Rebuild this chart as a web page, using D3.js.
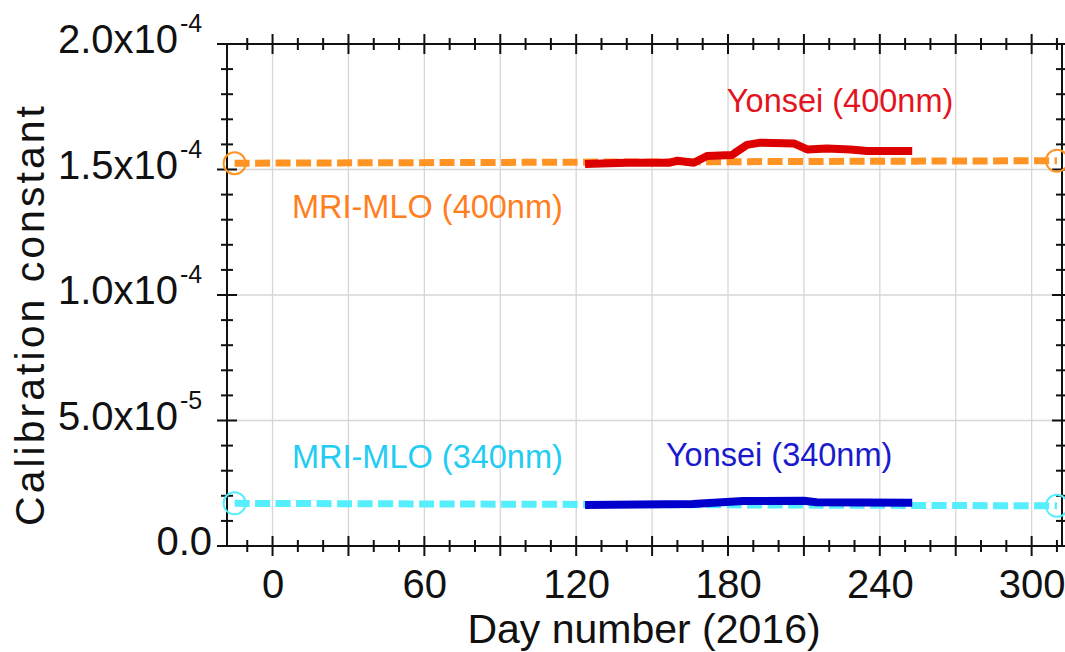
<!DOCTYPE html>
<html>
<head>
<meta charset="utf-8">
<script src="https://cdn.jsdelivr.net/npm/d3@7"></script>
<style>
  html, body { margin: 0; padding: 0; background: #fff; }
  svg { display: block; font-family: "Liberation Sans", Arial, sans-serif; }
</style>
</head>
<body>
<svg id="chart" width="1065" height="652"></svg>
<script>
// ---- data ----
const xDomain = [-18, 312];
const yDomain = [0, 2e-4];

const xTickLabels = [0, 60, 120, 180, 240, 300];
const xGridValues = [0, 30, 60, 90, 120, 150, 180, 210, 240, 270, 300];
const yTickValues = [0, 5e-5, 1e-4, 1.5e-4, 2e-4];
const yTickMantissa = ["0.0", "5.0x10", "1.0x10", "1.5x10", "2.0x10"];
const yTickExponent = ["", "-5", "-4", "-4", "-4"];

// MRI-MLO reference (dashed, with circle end markers)
const mlo400Days = [-15, 310];
const mlo400Vals = [1.525e-4, 1.535e-4];
const mlo340Days = [-15, 310];
const mlo340Vals = [1.70e-5, 1.60e-5];

// Yonsei (solid)
const yon400Days = [123.5, 140, 157, 160, 166.5, 171.7, 181.6, 183.5, 187.5, 192.8, 206, 211.3, 219, 228.4, 235, 252.8];
const yon400Vals = [1.522e-4, 1.527e-4, 1.527e-4, 1.535e-4, 1.527e-4, 1.554e-4, 1.558e-4, 1.571e-4, 1.598e-4, 1.607e-4, 1.604e-4, 1.580e-4, 1.584e-4, 1.580e-4, 1.574e-4, 1.574e-4];
const yon340Days = [123.5, 166, 186, 210, 215, 252.8];
const yon340Vals = [1.633e-5, 1.673e-5, 1.79e-5, 1.80e-5, 1.74e-5, 1.725e-5];

const seriesLabels = [
  { text: "Yonsei (400nm)", day: 224.3, val: 1.73e-4, color: "#e3141e" },
  { text: "MRI-MLO (400nm)", day: 61.2, val: 1.305e-4, color: "#ff7f1f" },
  { text: "MRI-MLO (340nm)", day: 61.2, val: 3.10e-5, color: "#22ccf2" },
  { text: "Yonsei (340nm)", day: 200.2, val: 3.17e-5, color: "#1a1acc" }
];

// ---- layout ----
const svg = d3.select("#chart");
const L = 227, R = 1062, T = 44, B = 546;
const x = d3.scaleLinear().domain(xDomain).range([L, R]);
const y = d3.scaleLinear().domain(yDomain).range([B, T]);

// grid
const grid = svg.append("g").attr("stroke", "#d6d6d6").attr("stroke-width", 1.3);
grid.selectAll("line.v").data(xGridValues).join("line")
  .attr("x1", d => x(d)).attr("x2", d => x(d)).attr("y1", T).attr("y2", B);
grid.selectAll("line.h").data(yTickValues.slice(1, -1)).join("line")
  .attr("x1", L).attr("x2", R).attr("y1", d => y(d)).attr("y2", d => y(d));

// axes frame
const axisColor = "#111";
svg.append("rect").attr("x", L).attr("y", T).attr("width", R - L).attr("height", B - T)
  .attr("fill", "none").attr("stroke", axisColor).attr("stroke-width", 2);

// crossing ticks
const xTicksAll = d3.range(-10, 312, 10);
const yTicksAll = d3.range(0, 21).map(i => i * 1e-5);
const isMajorX = d => d % 30 === 0;
const isMajorY = (d, i) => i % 5 === 0;
const tk = svg.append("g").attr("stroke", axisColor).attr("stroke-width", 2);
[B, T].forEach(yy => {
  tk.append("g").selectAll("line").data(xTicksAll).join("line")
    .attr("x1", d => x(d)).attr("x2", d => x(d))
    .attr("y1", d => yy - (isMajorX(d) ? 10 : 6))
    .attr("y2", d => yy + (isMajorX(d) ? 10 : 6));
});
[L, R].forEach(xx => {
  tk.append("g").selectAll("line").data(yTicksAll).join("line")
    .attr("y1", d => y(d)).attr("y2", d => y(d))
    .attr("x1", (d, i) => xx - (isMajorY(d, i) ? 10 : 6))
    .attr("x2", (d, i) => xx + (isMajorY(d, i) ? 10 : 6));
});

// x axis labels via d3 axis
const xAxis = d3.axisBottom(x).tickValues(xTickLabels).tickSize(0).tickPadding(0).tickFormat(d3.format("d"));
const gx = svg.append("g").attr("transform", `translate(0,${B})`).call(xAxis);
gx.select(".domain").remove();
gx.selectAll("text").attr("font-size", 40).attr("fill", "#111")
  .attr("font-family", "'Liberation Sans', Arial, sans-serif")
  .attr("y", 52).attr("dy", 0);

// y axis labels with superscript
const gy = svg.append("g").attr("fill", "#111");
yTickValues.forEach((v, i) => {
  if (yTickExponent[i]) {
    gy.append("text").attr("x", 178).attr("y", y(v) + 9)
      .attr("text-anchor", "end").attr("font-size", 40).text(yTickMantissa[i]);
    gy.append("text").attr("x", 180).attr("y", y(v) - 12)
      .attr("text-anchor", "start").attr("font-size", 25).text(yTickExponent[i]);
  } else {
    gy.append("text").attr("x", 212).attr("y", y(v) + 9)
      .attr("text-anchor", "end").attr("font-size", 40).text(yTickMantissa[i]);
  }
});

// axis titles
svg.append("text").attr("x", 644).attr("y", 643).attr("text-anchor", "middle")
  .attr("font-size", 41).attr("fill", "#111").text("Day number (2016)");
svg.append("text").attr("transform", "translate(44,316) rotate(-90)")
  .attr("text-anchor", "middle").attr("font-size", 41).attr("fill", "#111")
  .attr("textLength", 420).attr("lengthAdjust", "spacing")
  .text("Calibration constant");

// series
const line = d3.line().x(d => x(d[0])).y(d => y(d[1]));
const zip = (a, b) => a.map((d, i) => [d, b[i]]);

function refSeries(days, vals, color) {
  svg.append("g").selectAll("circle").data(zip(days, vals)).join("circle")
    .attr("cx", d => x(d[0])).attr("cy", d => y(d[1])).attr("r", 11)
    .attr("fill", "none").attr("stroke", color).attr("stroke-width", 2);
  svg.append("path").datum(zip(days, vals)).attr("d", line)
    .attr("fill", "none").attr("stroke", color).attr("stroke-width", 7)
    .attr("stroke-dasharray", "15,5.5");
}
refSeries(mlo400Days, mlo400Vals, "#ff9424");
refSeries(mlo340Days, mlo340Vals, "#55eefc");

function solidSeries(days, vals, color) {
  svg.append("path").datum(zip(days, vals)).attr("d", line)
    .attr("fill", "none").attr("stroke", color).attr("stroke-width", 8)
    .attr("stroke-linejoin", "round");
}
solidSeries(yon400Days, yon400Vals, "#dd0000");
solidSeries(yon340Days, yon340Vals, "#0000cc");

// series labels
svg.append("g").selectAll("text").data(seriesLabels).join("text")
  .attr("x", d => x(d.day)).attr("y", d => y(d.val))
  .attr("text-anchor", "middle").attr("font-size", 32.5)
  .attr("fill", d => d.color).text(d => d.text);
</script>
</body>
</html>
